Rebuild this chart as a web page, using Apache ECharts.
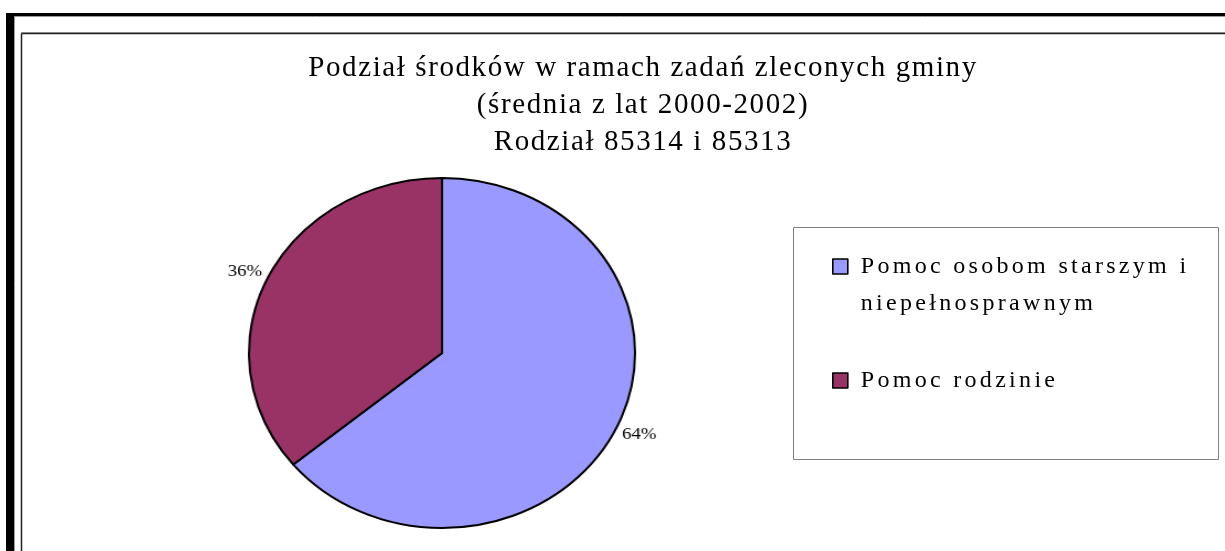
<!DOCTYPE html>
<html>
<head>
<meta charset="utf-8">
<script src="https://cdn.jsdelivr.net/npm/echarts@6/dist/echarts.min.js"></script>
<style>
html,body{margin:0;padding:0;background:#fff;overflow:hidden;}
#wrap{position:relative;width:1225px;height:551px;overflow:hidden;background:#fff;}
#base,#leg,#pie{position:absolute;left:0;top:0;width:1225px;height:551px;}
#pie{transform:scaleX(1.103);transform-origin:442px 0;pointer-events:none;}
</style>
</head>
<body>
<div id="wrap"><div id="base"></div><div id="leg"></div><div id="pie"></div></div>
<script>
const titleLines = ['Podział środków w ramach zadań zleconych gminy', '(średnia z lat 2000-2002)', 'Rodział 85314 i 85313'];
const categories = ['Pomoc osobom starszym i niepełnosprawnym', 'Pomoc rodzinie'];
const legendLines = [['Pomoc osobom starszym i', 'niepełnosprawnym'], ['Pomoc rodzinie']];
const values = [64, 36];
const colors = ['#9999FF', '#993366'];

const serif = '"Liberation Serif", serif';
const pieData = categories.map((c, i) => ({ name: c, value: values[i], itemStyle: { color: colors[i] } }));

// wide character spacing of the original rendering (title and legend only)
const spacingById = { base: '1.6px', leg: '3.3px' };
const origFillText = CanvasRenderingContext2D.prototype.fillText;
CanvasRenderingContext2D.prototype.fillText = function (t, x, y, m) {
  const host = this.canvas && this.canvas.closest ? this.canvas.closest('#base,#leg') : null;
  if (host && 'letterSpacing' in this) this.letterSpacing = spacingById[host.id];
  return m === undefined ? origFillText.call(this, t, x, y) : origFillText.call(this, t, x, y, m);
};

// background, frame and title
const base = echarts.init(document.getElementById('base'), null, { renderer: 'canvas' });
base.setOption({
  backgroundColor: '#ffffff',
  animation: false,
  title: {
    text: titleLines.join('\n'),
    left: 643, top: 50, textAlign: 'center', padding: 0,
    textStyle: { fontFamily: serif, fontSize: 29, fontWeight: 'normal', color: '#000', lineHeight: 37 }
  },
  graphic: [
    { type: 'rect', shape: { x: 6, y: 13, width: 8, height: 540 }, style: { fill: '#000' } },
    { type: 'rect', shape: { x: 6, y: 13, width: 1220, height: 3 }, style: { fill: '#000' } },
    { type: 'line', shape: { x1: 14.5, y1: 16, x2: 14.5, y2: 551 }, style: { stroke: '#999', lineWidth: 1 } },
    { type: 'line', shape: { x1: 14, y1: 16.5, x2: 1225, y2: 16.5 }, style: { stroke: '#999', lineWidth: 1 } },
    { type: 'line', shape: { x1: 21, y1: 32.5, x2: 1225, y2: 32.5 }, style: { stroke: '#aaa', lineWidth: 1 } },
    { type: 'line', shape: { x1: 21.5, y1: 33.5, x2: 21.5, y2: 551 }, style: { stroke: '#222', lineWidth: 1.5 } },
    { type: 'line', shape: { x1: 21.5, y1: 33.5, x2: 1225, y2: 33.5 }, style: { stroke: '#222', lineWidth: 1.5 } }
  ]
});

// legend box and legend
const leg = echarts.init(document.getElementById('leg'), null, { renderer: 'canvas' });
leg.setOption({
  backgroundColor: 'transparent',
  animation: false,
  graphic: [
    { type: 'rect', shape: { x: 793.5, y: 227.5, width: 425, height: 232 }, style: { fill: '#fff', stroke: '#808080', lineWidth: 1 } }
  ],
  legend: {
    orient: 'vertical',
    left: 832, top: 211, padding: 0,
    icon: 'rect', itemWidth: 15, itemHeight: 15, itemGap: 40,
    itemStyle: { borderColor: '#000', borderWidth: 1.6 },
    textStyle: { fontFamily: serif, fontSize: 24, color: '#000', lineHeight: 37, padding: [0, 0, 0, 8] },
    formatter: function (name) {
      const lines = legendLines[categories.indexOf(name)];
      return lines.length > 1 ? '\n' + lines.join('\n') : lines[0];
    },
    data: categories
  },
  series: [{
    type: 'pie', radius: [0, 0], center: [442, 353], silent: true,
    label: { show: false }, labelLine: { show: false },
    data: pieData
  }]
});

// the pie itself (stretched horizontally into an ellipse)
const pie = echarts.init(document.getElementById('pie'), null, { renderer: 'canvas' });
pie.setOption({
  backgroundColor: 'transparent',
  animation: false,
  series: [{
    type: 'pie',
    center: [442, 353],
    radius: 175,
    startAngle: 90,
    clockwise: true,
    silent: true,
    itemStyle: { borderColor: '#000', borderWidth: 2 },
    label: {
      show: true, position: 'outside',
      formatter: '{c}%',
      fontFamily: serif, fontSize: 17, color: '#000'
    },
    labelLine: { show: false, length: 2, length2: 0 },
    labelLayout: function (params) {
      return params.dataIndex === 0 ? { dx: -2, dy: 6 } : { dx: 2, dy: -6 };
    },
    data: pieData
  }]
});
</script>
</body>
</html>
